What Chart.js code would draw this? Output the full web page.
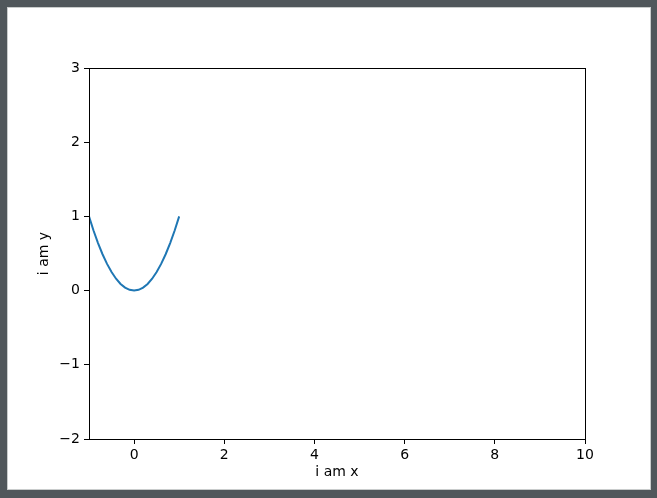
<!DOCTYPE html>
<html>
<head>
<meta charset="utf-8">
<script src="https://cdn.jsdelivr.net/npm/chart.js@4.4.1/dist/chart.umd.min.js"></script>
<style>
  body { margin: 0; background: #50575b; }
  #frame { position: absolute; left: 7px; top: 7px; width: 644px; height: 483px; box-sizing: border-box; border: 1px solid #c9cccc; background: #fff; }
  #myChart { position: absolute; left: 0; top: 0; }
</style>
</head>
<body>
<div id="frame"></div>
<canvas id="myChart" width="657" height="498"></canvas>
<script>
// valores
const xs = [-1, -0.9, -0.8, -0.7, -0.6, -0.5, -0.4, -0.3, -0.2, -0.1, 0, 0.1, 0.2, 0.3, 0.4, 0.5, 0.6, 0.7, 0.8, 0.9, 1];
const ys = [1, 0.81, 0.64, 0.49, 0.36, 0.25, 0.16, 0.09, 0.04, 0.01, 0, 0.01, 0.04, 0.09, 0.16, 0.25, 0.36, 0.49, 0.64, 0.81, 1];
const xTicks = [0, 2, 4, 6, 8, 10];
const yTicks = [-2, -1, 0, 1, 2, 3];
const xLabel = "i am x";
const yLabel = "i am y";

const grafica = document.getElementById('myChart').getContext('2d');
const fuente = { family: "'DejaVu Sans'", size: 14 };

// caja negra alrededor del area
const marco = {
    id: 'marco',
    afterDraw(chart) {
        const a = chart.chartArea;
        const ctx = chart.ctx;
        ctx.save();
        ctx.strokeStyle = '#000';
        ctx.lineWidth = 1;
        ctx.strokeRect(Math.round(a.left) + 0.5, Math.round(a.top) + 0.5, Math.round(a.right - a.left), Math.round(a.bottom - a.top));
        ctx.restore();
    }
};

const menos = (v) => String(v).replace('-', '\u2212');

const myChart = new Chart(grafica, {
    type: 'scatter',
    data: {
        datasets: [{
            data: xs.map((x, i) => ({ x: x, y: ys[i] })),
            showLine: true,
            borderColor: '#1f77b4',
            borderWidth: 2,
            pointRadius: 0,
            tension: 0,
            fill: false
        }]
    },
    options: {
        responsive: false,
        animation: false,
        devicePixelRatio: 1,
        layout: { padding: { left: 0, right: 72, top: 68, bottom: 0 } },
        plugins: { legend: { display: false }, tooltip: { enabled: false } },
        scales: {
            x: {
                type: 'linear',
                min: -1,
                max: 10,
                afterBuildTicks: (axis) => { axis.ticks = xTicks.map(v => ({ value: v })); },
                afterFit: (axis) => { axis.height = 59; },
                border: { display: false },
                grid: { drawOnChartArea: false, drawTicks: true, tickLength: 5, color: '#000' },
                ticks: { color: '#000', font: fuente, padding: 3, maxRotation: 0, callback: menos },
                title: { display: true, text: xLabel, color: '#000', font: fuente, padding: { top: 0, bottom: 17 } }
            },
            y: {
                type: 'linear',
                min: -2,
                max: 3,
                afterBuildTicks: (axis) => { axis.ticks = yTicks.map(v => ({ value: v })); },
                afterFit: (axis) => { axis.width = 89; },
                border: { display: false },
                grid: { drawOnChartArea: false, drawTicks: true, tickLength: 5, color: '#000' },
                ticks: { color: '#000', font: fuente, padding: 4, callback: menos },
                title: { display: true, text: yLabel, color: '#000', font: fuente, padding: { top: 36, bottom: 0 } }
            }
        }
    },
    plugins: [marco]
});
</script>
</body>
</html>
